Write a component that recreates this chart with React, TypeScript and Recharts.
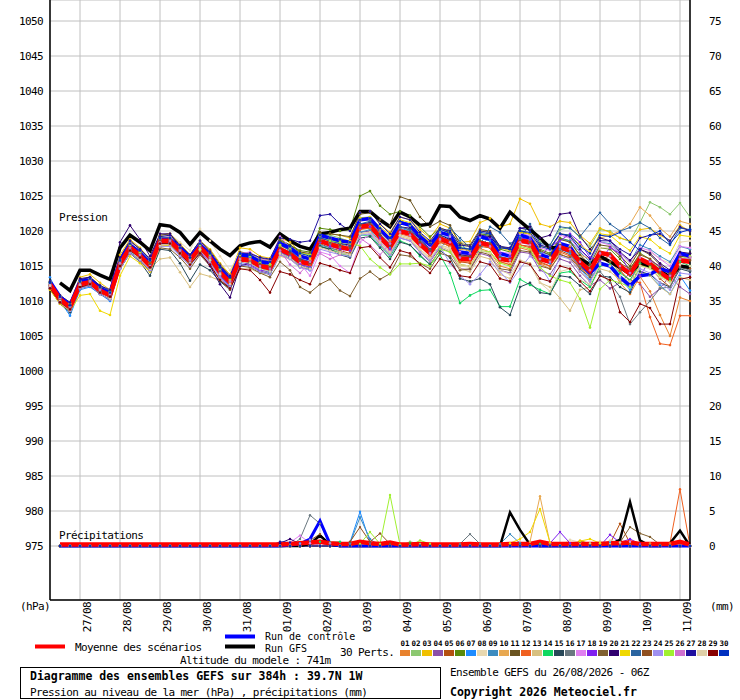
import { CartesianGrid, Line, LineChart, XAxis, YAxis } from 'recharts'

const FONT = '"DejaVu Sans Mono", monospace'

// steps are 6h apart, from 26/08 06Z (step 0) to +384h (step 64)
const DATE_TICKS = [3, 7, 11, 15, 19, 23, 27, 31, 35, 39, 43, 47, 51, 55, 59, 63]
const DATE_LABELS = [
  '27/08', '28/08', '29/08', '30/08', '31/08', '01/09', '02/09', '03/09',
  '04/09', '05/09', '06/09', '07/09', '08/09', '09/09', '10/09', '11/09',
]
const PRESSURE_TICKS = [
  975, 980, 985, 990, 995, 1000, 1005, 1010, 1015, 1020, 1025, 1030, 1035, 1040, 1045, 1050,
]
const RAIN_TICKS = [0, 5, 10, 15, 20, 25, 30, 35, 40, 45, 50, 55, 60, 65, 70, 75]

const PERT_LABELS = [
  '01', '02', '03', '04', '05', '06', '07', '08', '09', '10',
  '11', '12', '13', '14', '15', '16', '17', '18', '19', '20',
  '21', '22', '23', '24', '25', '26', '27', '28', '29', '30',
]
const PERT_COLORS = [
  '#e8822e', '#8cc870', '#f0c000', '#8c50a8', '#b45010', '#5a8a0a', '#1e8cff', '#e8d8b0', '#3c8cc0', '#e8a850',
  '#6a5420', '#f06020', '#d8c080', '#10d860', '#284858', '#6a7880', '#e080f0', '#8020f0', '#806030', '#300070',
  '#f0d800', '#2a64a0', '#905020', '#a090f0', '#a0f030', '#d070d0', '#2010a0', '#e0d0a8', '#880000', '#0030c0',
]

// sea level pressure (hPa), steps 0..64
const meanPressure = [
  1012.4, 1010.3, 1009.1, 1012.4, 1012.7, 1011.5, 1010.8, 1015.3, 1017.7, 1016.5,
  1015.0, 1018.6, 1018.6, 1017.2, 1015.8, 1017.7, 1016.2, 1014.1, 1012.7, 1016.0,
  1015.8, 1015.0, 1014.7, 1017.4, 1016.7, 1015.6, 1015.3, 1018.6, 1018.1, 1017.7,
  1017.4, 1020.6, 1020.8, 1019.1, 1017.7, 1020.0, 1019.6, 1018.1, 1016.9, 1018.9,
  1018.3, 1016.0, 1016.0, 1018.3, 1018.0, 1016.0, 1015.8, 1018.6, 1018.4, 1016.0,
  1015.6, 1017.7, 1017.2, 1015.6, 1014.3, 1016.9, 1016.6, 1015.0, 1013.9, 1016.0,
  1015.3, 1014.1, 1013.1, 1015.8, 1015.6,
]
const controlPressure = [
  1012.8, 1010.6, 1009.4, 1012.8, 1013.0, 1011.8, 1011.2, 1015.8, 1018.0, 1016.8,
  1015.4, 1018.8, 1018.8, 1017.6, 1016.2, 1018.0, 1016.6, 1014.6, 1013.0, 1016.6,
  1016.4, 1015.6, 1015.4, 1018.2, 1017.6, 1016.4, 1016.0, 1019.4, 1019.0, 1018.6,
  1018.4, 1021.6, 1021.8, 1020.2, 1018.8, 1021.2, 1020.8, 1019.2, 1018.0, 1019.8,
  1019.4, 1017.0, 1016.8, 1019.2, 1018.8, 1016.8, 1016.4, 1019.4, 1019.0, 1016.6,
  1016.2, 1018.2, 1017.8, 1015.4, 1014.0, 1015.4, 1015.0, 1013.4, 1012.2, 1013.6,
  1013.8, 1014.6, 1014.2, 1016.8, 1016.4,
]
const gfsPressure = [
  null, 1012.6, 1011.5, 1014.4, 1014.4, 1013.7, 1013.1, 1017.6, 1019.4, 1018.4,
  1017.2, 1020.9, 1020.7, 1019.8, 1018.1, 1019.8, 1018.6, 1017.4, 1016.5, 1017.9,
  1018.3, 1018.5, 1017.7, 1019.6, 1018.6, 1017.8, 1017.4, 1019.6, 1019.8, 1020.2,
  1020.4, 1022.8, 1022.8, 1021.6, 1020.6, 1022.7, 1022.0, 1020.8, 1021.0, 1023.6,
  1023.5, 1022.0, 1021.5, 1022.2, 1021.7, 1020.4, 1022.7, 1021.4, 1020.2, 1019.0,
  1017.6, 1017.6, 1017.2, 1016.0, 1015.2, 1016.4, 1015.6, 1014.8, 1013.9, 1015.5,
  1015.0, 1014.3, 1013.4, 1015.0, 1014.8,
]

const pert01 = [
  1012.0, 1010.0, 1008.8, 1012.8, 1013.0, 1011.8, 1011.0, 1015.8, 1018.2, 1017.0,
  1015.4, 1018.9, 1019.0, 1017.8, 1016.2, 1018.3, 1016.9, 1014.6, 1013.0, 1016.6,
  1016.2, 1015.5, 1015.0, 1018.0, 1017.6, 1016.3, 1015.9, 1019.4, 1019.0, 1018.2,
  1018.0, 1021.5, 1021.6, 1019.8, 1018.5, 1020.6, 1020.1, 1018.0, 1016.5, 1018.6,
  1017.8, 1015.2, 1015.0, 1017.5, 1017.0, 1015.0, 1014.6, 1017.6, 1017.2, 1015.3,
  1014.6, 1016.8, 1016.0, 1014.2, 1012.8, 1015.5, 1015.0, 1012.6, 1011.0, 1013.5,
  1011.4, 1008.0, 1005.0, 1010.5, 1010.0,
]
const pert02 = [
  1012.6, 1010.6, 1009.6, 1012.9, 1013.2, 1011.9, 1011.3, 1015.6, 1017.6, 1016.9,
  1015.8, 1019.0, 1019.2, 1017.9, 1016.6, 1018.4, 1016.8, 1014.9, 1013.3, 1016.8,
  1016.6, 1016.0, 1015.6, 1018.6, 1017.8, 1016.9, 1016.6, 1019.6, 1019.4, 1019.0,
  1018.5, 1021.9, 1022.0, 1020.4, 1019.0, 1021.1, 1020.8, 1019.6, 1018.2, 1019.8,
  1019.6, 1017.8, 1017.4, 1019.5, 1019.4, 1017.8, 1017.5, 1020.0, 1020.4, 1018.5,
  1018.0, 1020.2, 1020.5, 1019.0, 1017.8, 1020.2, 1020.0, 1019.0, 1018.5, 1021.2,
  1024.1, 1023.4, 1022.4, 1024.0, 1022.0,
]
const pert03 = [
  1012.8, 1010.8, 1009.8, 1013.4, 1013.8, 1012.6, 1011.6, 1016.6, 1018.8, 1017.6,
  1016.0, 1019.4, 1019.6, 1018.2, 1016.6, 1018.6, 1017.4, 1015.4, 1013.8, 1017.6,
  1017.4, 1016.4, 1016.1, 1019.0, 1018.4, 1017.0, 1016.6, 1019.8, 1019.6, 1019.4,
  1019.0, 1022.6, 1022.8, 1021.0, 1019.8, 1022.0, 1021.6, 1020.2, 1019.0, 1021.0,
  1020.4, 1018.4, 1018.5, 1021.2, 1021.8, 1020.6, 1021.0, 1024.6, 1023.9, 1021.0,
  1020.6, 1021.4, 1021.2, 1019.4, 1018.2, 1020.4, 1019.8, 1019.0, 1018.6, 1020.2,
  1020.4, 1019.4, 1018.6, 1020.8, 1020.0,
]
const pert04 = [
  1011.8, 1009.8, 1008.6, 1011.9, 1012.1, 1011.0, 1010.3, 1014.6, 1016.9, 1015.8,
  1014.4, 1018.0, 1018.0, 1016.6, 1015.0, 1017.0, 1015.5, 1013.4, 1011.8, 1015.3,
  1015.0, 1014.3, 1013.9, 1016.6, 1016.0, 1014.8, 1014.5, 1017.8, 1017.3, 1016.8,
  1016.5, 1019.8, 1020.0, 1018.1, 1016.6, 1019.0, 1018.6, 1017.0, 1015.6, 1017.6,
  1017.0, 1014.6, 1014.5, 1016.8, 1016.4, 1014.4, 1014.0, 1017.0, 1016.8, 1014.4,
  1013.8, 1016.0, 1015.5, 1013.6, 1012.2, 1013.0, 1011.8, 1012.6, 1014.0, 1012.4,
  1010.6, 1011.8, 1013.6, 1012.0, 1011.0,
]
const pert05 = [
  1012.2, 1010.1, 1009.0, 1012.6, 1012.8, 1011.4, 1010.6, 1015.4, 1017.9, 1016.6,
  1015.2, 1018.8, 1018.6, 1017.2, 1015.6, 1017.4, 1016.0, 1013.8, 1012.2, 1015.8,
  1015.6, 1014.8, 1014.4, 1017.2, 1016.4, 1015.2, 1014.8, 1018.2, 1017.6, 1017.2,
  1016.8, 1020.4, 1020.4, 1018.8, 1017.2, 1019.8, 1019.4, 1018.0, 1016.4, 1018.4,
  1017.8, 1015.6, 1015.4, 1017.8, 1017.6, 1015.6, 1015.2, 1018.0, 1017.8, 1015.6,
  1015.0, 1017.2, 1016.6, 1015.0, 1013.6, 1016.0, 1016.4, 1014.4, 1012.8, 1015.2,
  1014.8, 1013.2, 1012.0, 1015.0, 1014.6,
]
const pert06 = [
  1012.6, 1010.4, 1009.2, 1012.6, 1013.0, 1011.8, 1011.2, 1015.8, 1018.2, 1017.0,
  1015.6, 1019.2, 1019.0, 1017.6, 1016.2, 1018.2, 1016.8, 1014.8, 1013.2, 1016.6,
  1016.6, 1016.0, 1015.8, 1018.8, 1018.0, 1017.2, 1017.0, 1020.4, 1020.2, 1020.0,
  1020.2, 1025.0, 1025.7, 1023.6, 1022.4, 1022.8, 1022.2, 1020.6, 1019.2, 1020.4,
  1019.6, 1017.6, 1017.2, 1019.6, 1019.4, 1017.4, 1017.0, 1019.8, 1019.6, 1017.4,
  1016.8, 1019.0, 1018.6, 1016.4, 1014.6, 1017.6, 1017.4, 1016.0, 1014.6, 1016.8,
  1016.0, 1014.4, 1013.0, 1016.6, 1016.8,
]
const pert07 = [
  1013.4, 1010.0, 1007.9, 1011.6, 1012.0, 1011.0, 1010.0, 1014.6, 1017.0, 1016.0,
  1014.6, 1018.2, 1018.4, 1017.0, 1015.4, 1017.4, 1016.0, 1013.6, 1012.0, 1015.4,
  1015.6, 1014.6, 1014.2, 1017.0, 1016.2, 1015.0, 1014.6, 1018.6, 1018.2, 1017.6,
  1017.2, 1021.0, 1021.0, 1019.2, 1017.6, 1020.4, 1020.0, 1018.6, 1017.4, 1019.4,
  1019.0, 1016.6, 1016.6, 1019.0, 1018.6, 1016.4, 1016.0, 1018.8, 1018.4, 1016.0,
  1015.4, 1017.4, 1016.8, 1014.6, 1013.0, 1015.4, 1015.0, 1013.2, 1011.6, 1014.0,
  1013.6, 1012.2, 1011.0, 1013.6, 1011.5,
]
const pert08 = [
  1012.2, 1010.2, 1009.2, 1012.8, 1013.2, 1012.0, 1011.2, 1016.0, 1018.4, 1017.4,
  1016.2, 1019.4, 1019.6, 1018.4, 1017.2, 1020.3, 1018.6, 1016.4, 1014.4, 1017.0,
  1016.8, 1015.8, 1015.2, 1017.8, 1017.2, 1016.2, 1015.8, 1018.8, 1018.4, 1018.0,
  1017.6, 1020.6, 1020.6, 1018.6, 1017.0, 1019.4, 1019.0, 1017.4, 1016.0, 1018.0,
  1017.4, 1015.0, 1014.8, 1017.2, 1017.0, 1015.4, 1015.4, 1018.4, 1018.8, 1016.6,
  1016.2, 1018.2, 1017.8, 1016.4, 1015.2, 1017.6, 1017.6, 1016.4, 1015.4, 1017.2,
  1017.0, 1016.0, 1015.4, 1018.4, 1018.6,
]
const pert09 = [
  1012.0, 1009.8, 1008.4, 1012.0, 1012.4, 1011.2, 1010.4, 1015.0, 1017.4, 1016.2,
  1014.8, 1018.4, 1018.2, 1016.8, 1015.4, 1017.4, 1015.8, 1013.6, 1012.2, 1015.6,
  1015.4, 1014.6, 1014.0, 1016.8, 1016.2, 1015.0, 1014.4, 1018.0, 1017.6, 1017.0,
  1016.6, 1019.8, 1020.2, 1018.4, 1017.0, 1019.4, 1020.4, 1019.6, 1017.0, 1017.4,
  1019.4, 1018.6, 1016.4, 1017.2, 1019.6, 1016.8, 1016.6, 1019.2, 1019.2, 1017.0,
  1016.6, 1018.8, 1018.6, 1017.0, 1015.6, 1018.4, 1018.2, 1016.8, 1015.6, 1018.0,
  1017.4, 1016.4, 1015.6, 1017.8, 1017.4,
]
const pert10 = [
  1012.6, 1010.6, 1009.4, 1012.6, 1013.0, 1011.8, 1011.0, 1015.6, 1018.0, 1016.8,
  1015.4, 1018.8, 1018.8, 1017.4, 1016.0, 1017.8, 1016.4, 1014.4, 1013.0, 1016.2,
  1016.2, 1015.4, 1015.2, 1018.0, 1017.4, 1016.4, 1016.0, 1019.2, 1018.8, 1018.6,
  1018.4, 1021.6, 1021.8, 1020.2, 1018.8, 1021.2, 1021.0, 1019.6, 1018.4, 1020.4,
  1019.8, 1017.4, 1017.2, 1019.4, 1019.0, 1016.8, 1016.4, 1019.0, 1018.6, 1016.2,
  1015.8, 1018.0, 1017.8, 1016.6, 1016.0, 1019.0, 1019.4, 1020.0, 1021.0, 1023.4,
  1022.2, 1020.4, 1019.2, 1021.4, 1021.0,
]
const pert11 = [
  1012.4, 1010.4, 1009.4, 1013.0, 1013.4, 1012.2, 1011.4, 1016.2, 1018.6, 1017.4,
  1016.0, 1019.4, 1019.6, 1018.0, 1016.6, 1018.6, 1017.2, 1015.2, 1013.6, 1017.0,
  1016.8, 1016.2, 1015.8, 1018.6, 1018.0, 1017.0, 1016.8, 1019.8, 1019.6, 1019.4,
  1019.2, 1022.4, 1022.6, 1021.6, 1020.8, 1024.9, 1024.4, 1022.0, 1020.6, 1021.4,
  1020.8, 1018.2, 1018.0, 1020.2, 1020.0, 1017.8, 1017.4, 1020.0, 1019.6, 1017.2,
  1016.6, 1018.8, 1018.4, 1016.6, 1015.2, 1018.0, 1017.8, 1016.4, 1015.0, 1017.4,
  1016.6, 1015.2, 1014.0, 1016.4, 1016.2,
]
const pert12 = [
  1012.2, 1010.2, 1009.0, 1012.2, 1012.6, 1011.6, 1010.8, 1015.2, 1017.6, 1016.4,
  1015.0, 1018.4, 1018.4, 1017.0, 1015.6, 1017.6, 1016.2, 1014.0, 1012.6, 1016.0,
  1015.8, 1015.0, 1014.6, 1017.2, 1016.6, 1015.6, 1015.2, 1018.4, 1018.0, 1017.6,
  1017.2, 1020.2, 1020.4, 1018.8, 1017.4, 1019.6, 1019.2, 1017.8, 1016.4, 1018.4,
  1017.8, 1015.6, 1015.6, 1018.0, 1017.6, 1015.6, 1015.2, 1018.0, 1017.6, 1015.4,
  1015.0, 1017.0, 1016.4, 1014.8, 1013.6, 1016.0, 1015.6, 1014.2, 1013.0, 1012.6,
  1007.7, 1003.9, 1003.7, 1007.9, 1007.9,
]
const pert13 = [
  1012.0, 1010.0, 1008.8, 1011.8, 1012.2, 1011.2, 1010.4, 1014.8, 1016.8, 1016.0,
  1014.6, 1016.0, 1016.2, 1014.1, 1012.0, 1013.9, 1013.5, 1012.9, 1011.8, 1014.6,
  1014.6, 1014.0, 1013.8, 1016.4, 1016.0, 1015.0, 1014.6, 1017.8, 1017.4, 1017.0,
  1016.6, 1019.6, 1019.8, 1018.2, 1016.8, 1019.2, 1018.8, 1017.2, 1015.8, 1017.8,
  1017.2, 1014.6, 1014.2, 1016.4, 1016.0, 1013.8, 1013.2, 1015.8, 1015.4, 1012.6,
  1012.0, 1010.4, 1008.6, 1011.6, 1012.0, 1014.6, 1014.2, 1013.0, 1012.0, 1014.0,
  1013.6, 1012.0, 1011.0, 1013.4, 1013.0,
]
const pert14 = [
  1012.6, 1010.4, 1009.0, 1012.2, 1012.6, 1011.4, 1010.6, 1015.2, 1017.4, 1016.2,
  1014.8, 1018.4, 1018.2, 1016.8, 1015.4, 1017.4, 1015.8, 1013.8, 1012.2, 1015.6,
  1015.4, 1014.6, 1014.2, 1017.0, 1016.4, 1015.2, 1014.8, 1017.8, 1017.4, 1016.8,
  1016.4, 1019.4, 1019.4, 1017.8, 1016.4, 1018.6, 1018.0, 1016.4, 1015.2, 1016.6,
  1014.0, 1009.7, 1010.8, 1011.5, 1011.6, 1009.2, 1009.2, 1013.1, 1012.3, 1011.6,
  1011.0, 1014.0, 1014.2, 1013.0, 1012.0, 1015.0, 1015.2, 1014.0, 1013.0, 1015.4,
  1015.0, 1014.0, 1013.2, 1015.6, 1015.0,
]
const pert15 = [
  1011.8, 1009.6, 1008.4, 1011.8, 1012.2, 1011.0, 1010.2, 1014.6, 1016.8, 1015.6,
  1013.6, 1017.4, 1017.2, 1015.4, 1012.9, 1015.2, 1014.4, 1012.8, 1011.6, 1015.2,
  1015.0, 1014.2, 1013.8, 1016.8, 1016.2, 1015.0, 1014.6, 1017.8, 1017.4, 1016.6,
  1016.2, 1019.0, 1019.2, 1017.6, 1016.0, 1018.4, 1018.0, 1016.6, 1015.2, 1017.2,
  1016.2, 1013.2, 1012.8, 1013.2, 1012.4, 1009.1, 1008.0, 1012.0, 1012.6, 1011.2,
  1011.0, 1013.6, 1013.4, 1012.2, 1011.0, 1013.6, 1013.4, 1012.0, 1011.2, 1014.2,
  1013.8, 1012.6, 1012.0, 1014.6, 1014.2,
]
const pert16 = [
  1012.4, 1010.2, 1009.0, 1012.4, 1012.8, 1011.6, 1010.8, 1015.4, 1017.8, 1016.6,
  1015.2, 1018.6, 1018.6, 1017.2, 1015.8, 1017.8, 1016.2, 1014.2, 1012.8, 1016.2,
  1016.0, 1015.2, 1014.8, 1017.6, 1016.8, 1015.8, 1015.4, 1018.8, 1018.2, 1017.8,
  1017.6, 1020.8, 1021.0, 1019.4, 1018.0, 1020.2, 1019.8, 1018.4, 1017.2, 1019.2,
  1018.6, 1016.4, 1016.4, 1018.6, 1018.2, 1016.2, 1016.0, 1018.8, 1018.6, 1016.2,
  1015.6, 1017.6, 1017.0, 1015.0, 1013.6, 1014.2, 1012.6, 1010.6, 1006.7, 1008.4,
  1010.0, 1011.8, 1012.0, 1014.8, 1014.4,
]
const pert17 = [
  1012.8, 1010.6, 1009.6, 1012.8, 1013.2, 1012.0, 1011.2, 1015.8, 1018.2, 1017.2,
  1015.8, 1019.0, 1019.2, 1017.8, 1016.4, 1018.4, 1017.0, 1015.0, 1013.6, 1016.8,
  1017.0, 1016.0, 1015.8, 1019.2, 1017.6, 1015.4, 1013.6, 1017.0, 1016.6, 1015.0,
  1014.0, 1018.4, 1019.6, 1018.6, 1017.2, 1020.2, 1019.8, 1018.6, 1017.6, 1019.6,
  1019.2, 1017.0, 1016.8, 1019.2, 1019.0, 1017.0, 1016.8, 1019.6, 1019.4, 1017.6,
  1017.2, 1019.4, 1019.0, 1017.2, 1016.0, 1018.4, 1018.0, 1016.8, 1015.6, 1017.6,
  1017.2, 1016.0, 1015.0, 1017.8, 1017.6,
]
const pert18 = [
  1012.2, 1010.0, 1008.8, 1012.2, 1012.4, 1011.2, 1010.6, 1015.0, 1017.4, 1016.2,
  1014.8, 1018.2, 1018.4, 1017.0, 1015.4, 1017.2, 1015.8, 1013.6, 1012.2, 1015.6,
  1015.2, 1014.4, 1014.2, 1017.0, 1016.4, 1015.2, 1014.8, 1018.4, 1017.8, 1017.4,
  1017.2, 1020.4, 1020.6, 1019.0, 1017.4, 1020.0, 1019.8, 1018.2, 1017.0, 1019.0,
  1018.8, 1016.8, 1016.6, 1019.4, 1019.0, 1016.8, 1016.4, 1019.0, 1018.8, 1016.4,
  1017.8, 1018.6, 1019.6, 1018.4, 1016.2, 1015.8, 1017.6, 1016.8, 1014.0, 1013.6,
  1015.8, 1015.0, 1013.8, 1016.6, 1016.4,
]
const pert19 = [
  1011.6, 1009.6, 1008.6, 1012.0, 1012.2, 1011.0, 1010.2, 1014.6, 1016.8, 1015.8,
  1014.2, 1017.6, 1017.4, 1016.2, 1014.6, 1016.6, 1015.0, 1013.0, 1011.6, 1015.0,
  1014.8, 1014.0, 1013.4, 1015.6, 1014.4, 1012.0, 1011.2, 1012.4, 1013.1, 1011.5,
  1010.7, 1013.2, 1014.2, 1013.1, 1013.9, 1016.6, 1016.4, 1015.4, 1014.6, 1016.8,
  1016.4, 1014.4, 1014.6, 1017.0, 1016.6, 1014.6, 1014.4, 1017.2, 1017.0, 1015.0,
  1014.6, 1016.6, 1016.2, 1014.6, 1013.4, 1016.0, 1015.6, 1014.6, 1013.6, 1015.6,
  1015.0, 1014.0, 1013.4, 1016.0, 1016.0,
]
const pert20 = [
  1012.0, 1010.0, 1009.4, 1013.2, 1013.4, 1012.0, 1011.4, 1018.4, 1020.8, 1018.8,
  1016.4, 1019.6, 1019.6, 1017.6, 1015.4, 1017.0, 1015.0, 1012.4, 1010.5, 1015.0,
  1015.4, 1015.0, 1014.6, 1017.6, 1017.0, 1016.0, 1015.6, 1019.0, 1018.6, 1018.2,
  1018.0, 1021.0, 1021.2, 1019.4, 1018.0, 1020.6, 1020.4, 1018.8, 1017.4, 1019.4,
  1018.8, 1016.6, 1016.4, 1019.4, 1019.2, 1017.6, 1017.4, 1020.4, 1020.6, 1019.0,
  1019.4, 1022.4, 1022.6, 1019.3, 1017.4, 1019.0, 1018.6, 1017.0, 1015.8, 1017.4,
  1016.8, 1015.4, 1014.4, 1017.0, 1016.8,
]
const pert21 = [
  1011.6, 1009.6, 1008.6, 1010.8, 1011.0, 1008.6, 1008.0, 1013.6, 1016.4, 1015.4,
  1014.2, 1017.8, 1018.0, 1016.8, 1015.2, 1017.2, 1016.0, 1014.0, 1012.6, 1016.0,
  1016.0, 1015.4, 1015.0, 1017.8, 1017.4, 1016.6, 1016.2, 1019.4, 1019.0, 1018.8,
  1018.6, 1021.8, 1022.0, 1020.6, 1019.4, 1021.6, 1021.2, 1019.6, 1018.4, 1020.4,
  1020.0, 1018.0, 1017.8, 1020.0, 1019.8, 1017.6, 1017.2, 1019.8, 1019.6, 1017.8,
  1017.6, 1019.6, 1019.4, 1018.0, 1017.0, 1019.6, 1019.4, 1018.2, 1017.2, 1019.2,
  1018.8, 1017.6, 1016.8, 1019.4, 1019.2,
]
const pert22 = [
  1012.6, 1010.4, 1009.2, 1012.4, 1012.8, 1011.6, 1011.0, 1015.6, 1017.8, 1016.6,
  1015.2, 1018.8, 1018.6, 1017.2, 1015.8, 1017.8, 1016.2, 1014.2, 1012.8, 1016.4,
  1016.2, 1015.4, 1015.0, 1018.0, 1017.2, 1016.0, 1015.6, 1019.0, 1018.6, 1018.2,
  1017.8, 1021.0, 1021.4, 1019.6, 1018.2, 1020.6, 1020.2, 1018.6, 1017.4, 1019.4,
  1020.4, 1019.0, 1017.6, 1018.0, 1020.6, 1019.8, 1018.2, 1019.0, 1021.0, 1018.2,
  1018.0, 1020.6, 1020.4, 1019.2, 1021.0, 1022.6, 1021.0, 1020.0, 1020.5, 1021.2,
  1020.4, 1019.0, 1018.0, 1020.4, 1020.2,
]
const pert23 = [
  1012.2, 1010.2, 1009.2, 1012.6, 1013.0, 1011.8, 1011.0, 1015.6, 1017.8, 1016.8,
  1015.4, 1018.6, 1018.8, 1017.6, 1016.2, 1018.0, 1016.6, 1014.6, 1013.2, 1016.4,
  1016.0, 1015.2, 1015.0, 1017.6, 1016.8, 1015.8, 1015.4, 1018.6, 1018.4, 1018.0,
  1017.6, 1020.8, 1021.0, 1019.4, 1018.0, 1020.2, 1019.8, 1018.4, 1017.2, 1019.2,
  1018.6, 1016.4, 1016.4, 1018.6, 1018.2, 1016.2, 1016.0, 1018.6, 1018.4, 1016.2,
  1015.8, 1018.0, 1017.6, 1015.8, 1014.6, 1017.0, 1016.8, 1015.4, 1014.6, 1016.6,
  1016.0, 1014.8, 1013.8, 1016.2, 1015.8,
]
const pert24 = [
  1012.0, 1009.8, 1008.6, 1011.8, 1012.2, 1011.0, 1010.2, 1014.6, 1016.8, 1015.8,
  1014.4, 1017.8, 1017.8, 1016.4, 1015.0, 1016.8, 1015.4, 1013.4, 1012.0, 1015.2,
  1015.0, 1014.2, 1013.8, 1016.6, 1016.0, 1014.8, 1014.4, 1017.4, 1017.0, 1016.6,
  1016.4, 1019.4, 1019.6, 1018.0, 1016.6, 1019.0, 1018.6, 1017.0, 1015.8, 1017.8,
  1015.4, 1013.6, 1012.4, 1013.8, 1015.6, 1014.2, 1012.6, 1014.6, 1016.4, 1015.0,
  1012.8, 1016.4, 1016.0, 1014.2, 1012.8, 1015.4, 1015.0, 1013.4, 1012.2, 1014.6,
  1014.0, 1012.6, 1011.6, 1014.0, 1013.8,
]
const pert25 = [
  1012.8, 1010.6, 1009.6, 1012.8, 1013.0, 1012.0, 1011.4, 1015.8, 1018.0, 1017.0,
  1015.8, 1019.0, 1019.0, 1017.6, 1016.0, 1018.0, 1016.6, 1014.6, 1013.0, 1016.6,
  1016.4, 1015.6, 1015.2, 1018.0, 1017.6, 1016.8, 1016.6, 1019.4, 1018.6, 1018.4,
  1018.2, 1017.9, 1016.0, 1014.8, 1013.8, 1015.3, 1015.3, 1015.4, 1015.0, 1017.4,
  1017.0, 1015.2, 1015.0, 1017.2, 1017.0, 1015.4, 1015.0, 1017.8, 1017.4, 1014.8,
  1013.6, 1013.0, 1012.6, 1010.3, 1006.2, 1011.7, 1013.0, 1012.6, 1012.0, 1015.0,
  1014.8, 1013.6, 1012.8, 1016.0, 1016.4,
]
const pert26 = [
  1012.4, 1010.4, 1009.2, 1012.4, 1012.8, 1011.6, 1011.0, 1015.4, 1017.6, 1016.6,
  1015.0, 1018.4, 1018.6, 1017.2, 1015.8, 1017.6, 1016.2, 1014.0, 1012.8, 1016.0,
  1016.0, 1015.0, 1014.6, 1017.2, 1015.2, 1014.0, 1015.6, 1016.8, 1016.0, 1016.6,
  1018.4, 1019.0, 1018.0, 1016.6, 1018.2, 1019.8, 1019.4, 1018.0, 1016.8, 1018.8,
  1018.4, 1016.2, 1016.0, 1018.2, 1017.8, 1016.0, 1015.8, 1018.4, 1018.0, 1016.0,
  1015.6, 1017.8, 1017.4, 1015.6, 1014.4, 1016.8, 1016.4, 1015.0, 1014.0, 1016.2,
  1015.6, 1014.4, 1013.6, 1016.0, 1016.2,
]
const pert27 = [
  1012.8, 1010.8, 1009.8, 1013.0, 1013.4, 1012.2, 1011.6, 1016.2, 1018.6, 1017.4,
  1016.0, 1019.2, 1019.4, 1018.0, 1016.6, 1018.6, 1017.0, 1015.0, 1013.6, 1016.8,
  1016.8, 1016.2, 1016.0, 1019.0, 1018.8, 1018.4, 1018.6, 1022.2, 1022.4, 1021.0,
  1020.0, 1022.6, 1022.8, 1021.0, 1019.6, 1022.0, 1021.6, 1019.8, 1018.6, 1020.4,
  1020.0, 1018.0, 1017.8, 1020.0, 1019.8, 1017.8, 1017.6, 1020.4, 1020.2, 1018.0,
  1017.6, 1019.6, 1019.2, 1017.4, 1016.0, 1018.6, 1018.6, 1017.4, 1016.6, 1019.0,
  1019.4, 1019.6, 1018.6, 1020.6, 1020.0,
]
const pert28 = [
  1012.2, 1010.0, 1008.8, 1012.2, 1012.4, 1011.2, 1010.4, 1015.0, 1017.2, 1016.0,
  1014.6, 1018.0, 1018.2, 1016.8, 1015.4, 1017.4, 1015.8, 1013.8, 1012.4, 1015.6,
  1015.4, 1014.6, 1014.2, 1016.8, 1016.2, 1015.0, 1014.6, 1017.6, 1017.2, 1016.8,
  1016.6, 1019.6, 1019.8, 1018.4, 1017.0, 1019.4, 1019.0, 1017.4, 1016.2, 1018.0,
  1017.6, 1015.2, 1015.0, 1017.2, 1016.8, 1014.4, 1013.8, 1015.8, 1015.2, 1012.6,
  1011.4, 1014.2, 1014.6, 1013.0, 1012.4, 1015.2, 1015.0, 1013.6, 1012.8, 1015.0,
  1014.6, 1013.4, 1012.6, 1015.2, 1015.0,
]
const pert29 = [
  1011.8, 1009.8, 1008.8, 1012.0, 1012.4, 1011.2, 1010.6, 1015.0, 1017.2, 1016.2,
  1014.8, 1018.2, 1018.2, 1016.8, 1015.2, 1016.8, 1015.2, 1013.0, 1011.8, 1014.6,
  1014.4, 1013.0, 1011.2, 1014.2, 1013.8, 1013.0, 1012.4, 1015.4, 1015.0, 1014.4,
  1014.0, 1017.6, 1017.8, 1016.2, 1014.8, 1017.2, 1016.8, 1015.2, 1014.0, 1016.0,
  1015.6, 1013.6, 1013.4, 1015.6, 1015.2, 1013.2, 1012.8, 1015.6, 1015.2, 1013.2,
  1012.8, 1015.0, 1014.6, 1012.8, 1011.4, 1013.6, 1013.0, 1008.4, 1007.0, 1009.6,
  1009.0, 1006.7, 1006.7, 1013.1, 1013.4,
]
const pert30 = [
  1012.6, 1010.6, 1009.4, 1012.8, 1013.2, 1012.0, 1011.2, 1015.8, 1018.2, 1017.2,
  1015.8, 1019.0, 1019.0, 1017.6, 1016.2, 1018.2, 1016.8, 1014.8, 1013.4, 1016.8,
  1016.6, 1015.8, 1015.6, 1018.4, 1017.8, 1016.8, 1016.4, 1019.4, 1019.0, 1018.8,
  1018.4, 1021.6, 1021.8, 1020.4, 1019.0, 1021.4, 1021.0, 1019.4, 1018.2, 1020.2,
  1019.8, 1017.6, 1017.4, 1019.8, 1019.6, 1017.6, 1017.4, 1020.0, 1019.8, 1017.8,
  1017.4, 1019.6, 1019.4, 1017.8, 1016.8, 1019.4, 1019.2, 1019.8, 1018.4, 1017.2,
  1019.4, 1020.0, 1018.2, 1019.8, 1020.2,
]

// 6h precipitation (mm), steps 1..64
const meanRain = [
  0.2, 0.2, 0.2, 0.2, 0.2, 0.2, 0.2, 0.2, 0.2, 0.2, 0.2, 0.2, 0.2, 0.2, 0.2, 0.2,
  0.2, 0.2, 0.2, 0.2, 0.2, 0.2, 0.2, 0.3, 0.4, 0.5, 0.6, 0.4, 0.3, 0.3, 0.6, 0.4,
  0.3, 0.5, 0.2, 0.2, 0.3, 0.2, 0.2, 0.2, 0.2, 0.3, 0.2, 0.2, 0.2, 0.3, 0.3, 0.3,
  0.6, 0.3, 0.3, 0.3, 0.3, 0.3, 0.3, 0.4, 0.4, 0.5, 0.3, 0.3, 0.3, 0.3, 0.6, 0.2,
]
const controlRain = [
  0, 0, 0, 0, 0, 0, 0, 0, 0, 0, 0, 0, 0, 0, 0, 0,
  0, 0, 0, 0, 0, 0, 0, 0.1, 0.3, 1.0, 3.6, 0.3, 0, 0, 0, 0,
  0, 0, 0, 0, 0, 0, 0, 0, 0, 0, 0, 0, 0, 0, 0, 0,
  0, 0, 0, 0, 0, 0, 0, 0, 0, 0, 0, 0, 0, 0, 0, 0,
]
const gfsRain = [
  0, 0, 0, 0, 0, 0, 0, 0, 0, 0, 0, 0, 0, 0, 0, 0,
  0, 0, 0, 0, 0, 0, 0, 0, 0, 0.3, 1.5, 0.2, 0, 0, 0, 0,
  0, 0, 0, 0, 0, 0, 0, 0, 0, 0, 0, 0, 0, 4.8, 2.3, 0.2,
  0, 0, 0, 0, 0, 0, 0, 0.2, 0.9, 6.3, 0.8, 0, 0, 0.4, 2.2, 0,
]
const rain01 = [
  0, 0, 0, 0, 0, 0, 0, 0, 0, 0, 0, 0, 0, 0, 0, 0,
  0, 0, 0, 0, 0, 0, 0, 0, 0, 0, 0, 0, 0, 0, 0, 0,
  0, 0, 0, 0, 0, 0, 0, 0, 0, 0, 0, 0, 0.2, 0, 0, 0,
  0, 0, 0, 0, 0, 0, 0, 0, 0, 0, 0, 0.4, 0, 0, 0, 0,
]
const rain02 = [
  0, 0, 0, 0, 0, 0, 0, 0, 0, 0, 0, 0, 0, 0, 0, 0,
  0, 0, 0, 0, 0, 0, 0, 0, 0, 0, 0, 0, 0, 0, 0, 0,
  0, 0, 0, 0.6, 0.3, 0, 0, 0, 0, 0, 0, 0, 0, 0, 0, 0,
  0, 0, 0, 0, 0, 0, 0, 0, 0, 0, 0, 0, 0, 0, 0, 0,
]
const rain03 = [
  0, 0, 0, 0, 0, 0, 0, 0, 0, 0, 0, 0, 0, 0, 0, 0,
  0, 0, 0, 0, 0, 0, 0, 0, 0, 0, 0, 0, 0, 0, 0, 0,
  0, 0, 0, 0, 0, 0, 0, 0, 0, 0, 0, 0, 0, 0, 0, 0,
  0, 0, 0, 0, 0.8, 0.3, 0, 0, 0, 0, 0, 0, 0, 0, 0, 0,
]
const rain04 = [
  0, 0, 0, 0, 0, 0, 0, 0, 0, 0, 0, 0, 0, 0, 0, 0,
  0, 0, 0, 0, 0, 0, 0, 0, 0, 0, 0, 0.3, 0, 0, 0, 0,
  0, 0, 0, 0, 0, 0, 0, 0, 0, 0, 0, 0, 0, 0, 0, 0,
  0, 0, 0, 0, 0, 0, 0, 0, 0, 0, 0, 0, 0, 0, 0, 0,
]
const rain05 = [
  0, 0, 0, 0, 0, 0, 0, 0, 0, 0, 0, 0, 0, 0, 0, 0,
  0, 0, 0, 0, 0, 0, 0, 0, 0, 0, 0, 0, 0, 0, 0, 0,
  0, 0, 0, 0, 0, 0, 0, 0, 0, 0, 0, 0, 0, 0, 0, 0,
  0, 0, 0, 0, 0, 0, 0, 0.3, 3.2, 0.4, 0, 0, 0, 0, 0, 0,
]
const rain06 = [
  0, 0, 0, 0, 0, 0, 0, 0, 0, 0, 0, 0, 0, 0, 0, 0,
  0, 0, 0, 0, 0, 0, 0, 0, 0, 0, 0, 0, 0, 0, 0, 0,
  0, 0, 0, 0.4, 0, 0, 0, 0, 0, 0, 0, 0, 0, 0, 0, 0,
  0, 0, 0, 0, 0, 0, 0, 0, 0, 0, 0, 0, 0, 0, 0, 0,
]
const rain07 = [
  0, 0, 0, 0, 0, 0, 0, 0, 0, 0, 0, 0, 0, 0, 0, 0,
  0, 0, 0, 0, 0, 0, 0, 0, 0.4, 0.7, 0, 0, 0, 0.5, 4.9, 0.5,
  0, 0, 0, 0, 0, 0, 0, 0, 0, 0, 0, 0, 0, 0, 0, 0,
  0, 0, 0, 0, 0, 0, 0.4, 0.6, 0, 0, 0, 0, 0, 0, 0, 0,
]
const rain08 = [
  0, 0, 0, 0, 0, 0, 0, 0, 0, 0, 0, 0, 0, 0, 0, 0,
  0, 0, 0, 0, 0, 0, 0, 0, 0, 0, 0, 0, 0, 0, 0, 0,
  0, 0, 0, 0, 0, 0, 0, 0, 0, 0, 0, 0, 0, 0, 0, 0,
  0, 0, 0, 0.9, 0.5, 0, 0.6, 0, 0, 0, 0, 0, 0, 0, 0, 0,
]
const rain09 = [
  0, 0, 0, 0, 0, 0, 0, 0, 0, 0, 0, 0, 0, 0, 0, 0,
  0, 0, 0, 0, 0, 0, 0, 0, 0, 0, 0, 0, 0, 0.4, 4.1, 1.0,
  0, 0, 0, 0, 0, 0, 0, 0, 0, 0, 0, 0, 0.3, 1.7, 0.4, 0,
  0, 0, 0, 0, 0, 0, 0, 0, 0, 0, 0, 0, 0, 0, 0, 0,
]
const rain10 = [
  0, 0, 0, 0, 0, 0, 0, 0, 0, 0, 0, 0, 0, 0, 0, 0,
  0, 0, 0, 0, 0, 0, 0, 0, 0, 0, 0, 0, 0, 0, 0, 0,
  0, 0, 0, 0, 0, 0, 0, 0, 0, 0, 0, 0, 0, 0, 0, 0.6,
  7.1, 0.4, 0, 0, 0, 0, 0, 0, 0, 0, 0, 0, 0, 0, 0, 0,
]
const rain11 = [
  0, 0, 0, 0, 0, 0, 0, 0, 0, 0, 0, 0, 0, 0, 0, 0,
  0, 0, 0, 0, 0, 0, 0, 0, 0, 0, 0, 0, 0, 0, 0, 0,
  0, 0, 0, 0, 0, 0, 0, 0, 0, 0, 0, 0, 0, 0, 0, 0,
  0, 0, 0, 0, 0.6, 0.4, 0, 0, 0, 0, 0.3, 0, 0, 0, 0, 0,
]
const rain12 = [
  0, 0, 0, 0, 0, 0, 0, 0, 0, 0, 0, 0, 0, 0, 0, 0,
  0, 0, 0, 0, 0, 0, 0, 0, 0, 0, 0, 0, 0, 0, 0, 0,
  0, 0, 0, 0, 0, 0, 0, 0, 0.2, 0, 0, 0, 0, 0, 0, 0,
  0, 0, 0, 0, 0, 0, 0, 0, 0, 0, 0, 0, 0, 0.4, 8.1, 0,
]
const rain13 = [
  0, 0, 0, 0, 0, 0, 0, 0, 0, 0, 0, 0, 0, 0, 0, 0,
  0, 0, 0, 0, 0, 0, 0, 0, 0, 0, 0, 0, 0, 0, 0, 0,
  0, 0, 0, 0, 0, 0, 0, 0, 0, 0, 0, 0, 0, 0, 0, 0,
  0, 0, 0, 0, 0, 0.4, 0.6, 0.3, 0, 0, 0, 0, 0, 0, 0, 0,
]
const rain14 = [
  0, 0, 0, 0, 0, 0, 0, 0, 0, 0, 0, 0, 0, 0, 0, 0,
  0, 0, 0, 0, 0, 0, 0, 0, 0, 0, 0.6, 0.5, 0.6, 0, 0, 0,
  0, 0, 0, 0, 0, 0, 0, 0, 0, 0, 0, 0, 0, 0, 0, 0,
  0.3, 0, 0, 0, 0, 0, 0, 0, 0, 0, 0, 0, 0, 0, 0, 0,
]
const rain15 = [
  0, 0, 0, 0, 0, 0, 0, 0, 0, 0, 0, 0, 0, 0, 0, 0,
  0, 0, 0, 0, 0, 0, 0, 0, 0, 0.2, 0, 0, 0, 0, 0, 0,
  0, 0, 0, 0, 0, 0, 0, 0, 0, 0, 0, 0, 0, 0, 0, 0,
  0, 0, 0, 0, 0, 0, 0, 0, 0, 0, 0, 0, 0, 0, 0, 0,
]
const rain16 = [
  0, 0, 0, 0, 0, 0, 0, 0, 0, 0, 0, 0, 0, 0, 0, 0,
  0, 0, 0, 0, 0, 0, 0, 0, 1.0, 4.4, 3.2, 0.3, 0, 0, 0, 0,
  0, 0, 0, 0, 0, 0, 0, 0, 0.3, 1.7, 0.3, 0, 0, 0, 0, 0,
  0, 0, 0, 0, 0, 0, 0, 0, 0, 0, 0, 0, 0, 0, 0, 0,
]
const rain17 = [
  0, 0, 0, 0, 0, 0, 0, 0, 0, 0, 0, 0, 0, 0, 0, 0,
  0, 0, 0, 0, 0, 0, 0, 0.5, 1.5, 0.4, 0, 0, 0, 0, 0, 0,
  0, 0, 0, 0, 0, 0, 0, 0, 0, 0, 0, 0, 0, 0, 0, 0,
  0, 0, 0, 0, 0, 0, 0, 0, 0, 0.6, 0, 0, 0, 0, 0, 0,
]
const rain18 = [
  0, 0, 0, 0, 0, 0, 0, 0, 0, 0, 0, 0, 0, 0, 0, 0,
  0, 0, 0, 0, 0, 0, 0, 0, 0, 0, 0, 0, 0, 0, 0, 0,
  0, 0, 0, 0, 0, 0, 0, 0, 0, 0, 0, 0, 0, 0, 0, 0,
  0, 0.4, 2.0, 0.4, 0, 0, 0, 1.6, 0.5, 1.0, 0.3, 0, 0, 0, 0, 0,
]
const rain19 = [
  0, 0, 0, 0, 0, 0, 0, 0, 0, 0, 0, 0, 0, 0, 0, 0,
  0, 0, 0, 0, 0, 0, 0, 0, 0, 0, 0, 0, 0, 0, 0, 0,
  0, 0, 0, 0, 0, 0, 0, 0, 0, 0, 0, 0, 0, 0, 0, 0,
  0, 0, 0, 0, 0, 0, 0, 0, 0.5, 2.7, 1.8, 1.3, 0.2, 0, 0, 0,
]
const rain20 = [
  0, 0, 0, 0, 0, 0, 0, 0, 0, 0, 0, 0, 0, 0, 0, 0,
  0, 0, 0, 0, 0, 0, 0.4, 1.0, 0.3, 0, 0, 0, 0, 0, 0, 0,
  0, 0, 0, 0, 0, 0, 0, 0, 0, 0, 0, 0, 0, 0, 0, 0,
  0, 0, 0, 0, 0, 0, 0, 0, 0, 0, 0, 0, 0, 0, 0, 0,
]
const rain21 = [
  0, 0, 0, 0, 0, 0, 0, 0, 0, 0, 0, 0, 0, 0, 0, 0,
  0, 0, 0, 0, 0, 0, 0, 0, 0, 0, 0, 0, 0, 0, 0, 0,
  0, 0, 0, 0, 0, 0, 0, 0, 0, 0, 0, 0, 0, 0.4, 1.0, 2.0,
  5.3, 0.5, 0, 0, 0.7, 1.0, 0.4, 0, 0, 0, 0, 0, 0, 0, 0, 0,
]
const rain22 = [
  0, 0, 0, 0, 0, 0, 0, 0, 0, 0, 0, 0, 0, 0, 0, 0,
  0, 0, 0, 0, 0, 0, 0, 0, 0, 0, 0, 0, 0, 0, 0, 0,
  0, 0, 0, 0, 0, 0, 0, 0, 0, 0, 0, 0, 0, 0, 0.3, 0,
  0, 0, 0, 0, 0, 0, 0, 0, 0, 0, 0, 0, 0, 0, 0, 0,
]
const rain23 = [
  0, 0, 0, 0, 0, 0, 0, 0, 0, 0, 0, 0, 0, 0, 0, 0,
  0, 0, 0, 0, 0, 0, 0, 0, 0, 0.8, 1.7, 0.3, 0, 0.6, 2.7, 0.6,
  1.8, 0.3, 0, 0, 0, 0, 0, 0, 0, 0, 0, 0, 0, 0, 0, 0,
  0, 0, 0, 0, 0, 0, 0, 0, 0, 0, 0, 0, 0, 0, 0, 0,
]
const rain24 = [
  0, 0, 0, 0, 0, 0, 0, 0, 0, 0, 0, 0, 0, 0, 0, 0,
  0, 0, 0, 0, 0, 0, 0, 0, 0.3, 0.9, 0, 0, 0, 0, 0, 0,
  0, 0, 0, 0, 0, 0, 0, 0, 0, 0, 0, 0, 0, 0, 0, 0,
  0, 0, 0, 0, 0, 0, 0, 0, 0, 0, 0, 0, 0, 0, 0, 0,
]
const rain25 = [
  0, 0, 0, 0, 0, 0, 0, 0, 0, 0, 0, 0, 0, 0, 0, 0,
  0, 0, 0, 0, 0, 0, 0, 0, 0, 0, 0, 0, 0, 0, 0.3, 2.0,
  0.3, 7.3, 0.2, 0, 0.8, 0.3, 0, 0, 0, 0, 0, 0, 0, 0, 0, 0,
  0, 0, 0, 0, 0, 0, 0, 0, 0, 0, 0, 0, 0, 0, 0, 0,
]
const rain26 = [
  0, 0, 0, 0, 0, 0, 0, 0, 0, 0, 0, 0, 0, 0, 0, 0,
  0, 0, 0, 0, 0, 0, 0, 0, 0, 0, 0, 0.4, 0, 0, 0, 0,
  0, 0, 0, 0, 0, 0, 0, 0, 0, 0, 0, 0, 0, 0, 0, 0,
  0, 0, 0, 0, 0, 0, 0, 0, 0, 0, 0, 0, 0, 0, 0, 0,
]
const rain27 = [
  0, 0, 0, 0, 0, 0, 0, 0, 0, 0, 0, 0, 0, 0, 0, 0,
  0, 0, 0, 0, 0, 0, 0.6, 0.5, 0, 0, 0, 0, 0, 0, 0, 0,
  0, 0, 0, 0, 0, 0, 0, 0, 0, 0, 0, 0, 0, 0, 0, 0,
  0, 0, 0, 0, 0, 0, 0, 0, 0, 0, 0, 0, 0, 0, 0, 0,
]
const rain28 = [
  0, 0, 0, 0, 0, 0, 0, 0, 0, 0, 0, 0, 0, 0, 0, 0,
  0, 0, 0, 0, 0, 0, 0, 0, 0, 0, 0, 0, 0, 0, 0, 0,
  0, 0, 0, 0, 0, 0, 0, 0, 0, 0, 0, 0, 0, 0, 0, 0,
  0, 0, 0, 0, 0, 0, 0, 0.8, 0.5, 0, 0, 0, 0, 0, 0, 0,
]
const rain29 = [
  0, 0, 0, 0, 0, 0, 0, 0, 0, 0, 0, 0, 0, 0, 0, 0,
  0, 0, 0, 0, 0, 0, 0, 0, 0, 0, 0, 0, 0, 0, 0, 0,
  0, 0, 0, 0, 0, 0, 0, 0, 0, 0, 0, 0, 0, 0, 0, 0,
  0, 0, 0, 0, 0, 0, 0, 0, 0, 0, 0, 0, 0, 0, 0, 0,
]
const rain30 = [
  0, 0, 0, 0, 0, 0, 0, 0, 0, 0, 0, 0, 0, 0, 0, 0,
  0, 0, 0, 0, 0, 0, 0, 0, 0, 0, 0, 0, 0, 0, 0, 0,
  0, 0, 0, 0, 0, 0, 0, 0, 0, 0, 0, 0, 0, 0, 0, 0,
  0, 0, 0, 0, 0, 0, 0, 0, 0, 0, 0, 0, 0, 0, 0, 0,
]

const PERT_PRESSURE = [
  pert01, pert02, pert03, pert04, pert05, pert06, pert07, pert08, pert09, pert10,
  pert11, pert12, pert13, pert14, pert15, pert16, pert17, pert18, pert19, pert20,
  pert21, pert22, pert23, pert24, pert25, pert26, pert27, pert28, pert29, pert30,
]
const PERT_RAIN = [
  rain01, rain02, rain03, rain04, rain05, rain06, rain07, rain08, rain09, rain10,
  rain11, rain12, rain13, rain14, rain15, rain16, rain17, rain18, rain19, rain20,
  rain21, rain22, rain23, rain24, rain25, rain26, rain27, rain28, rain29, rain30,
]

const rows = meanPressure.map((mean, step) => {
  const row: Record<string, number | null> = {
    step,
    mean,
    control: controlPressure[step],
    gfs: gfsPressure[step],
    meanRain: step === 0 ? null : meanRain[step - 1],
    controlRain: step === 0 ? null : controlRain[step - 1],
    gfsRain: step === 0 ? null : gfsRain[step - 1],
  }
  PERT_PRESSURE.forEach((values, k) => {
    row[`p${k}`] = values[step]
    row[`r${k}`] = step === 0 ? null : PERT_RAIN[k][step - 1]
  })
  return row
})

const textStyle = {
  fontFamily: FONT,
  fontSize: 11,
  letterSpacing: -0.6,
  fill: '#000',
}
const smallStyle = {
  fontFamily: FONT,
  fontSize: 10,
  fill: '#000',
}
const boldStyle = {
  fontFamily: FONT,
  fontSize: 11.5,
  fontWeight: 700,
  fill: '#000',
}

function DateTick({ x, payload }: any) {
  const label = DATE_LABELS[DATE_TICKS.indexOf(payload.value)]
  const ax = x + 11
  return (
    <text x={ax} y={602} transform={`rotate(-90 ${ax} 602)`} textAnchor='end' style={textStyle}>
      {label}
    </text>
  )
}

function PressureTick({ y, payload }: any) {
  return (
    <text x={43} y={y} dy='0.35em' textAnchor='end' style={textStyle}>
      {payload.value}
    </text>
  )
}

function RainTick({ y, payload }: any) {
  return (
    <text x={709} y={y} dy='0.35em' textAnchor='start' style={textStyle}>
      {payload.value}
    </text>
  )
}

function Overlay() {
  return (
    <svg
      width={740}
      height={700}
      style={{ position: 'absolute', left: 0, top: 0, pointerEvents: 'none' }}
    >
      <text x={59} y={217} dy='0.35em' style={textStyle}>Pression</text>
      <text x={59} y={535} dy='0.35em' style={textStyle}>Précipitations</text>
      <text x={20} y={606} dy='0.35em' style={textStyle}>(hPa)</text>
      <text x={710} y={606} dy='0.35em' style={textStyle}>(mm)</text>

      <line x1={35} x2={65} y1={646.5} y2={646.5} stroke='#ff0000' strokeWidth={4} />
      <text x={75} y={647} dy='0.35em' style={textStyle}>Moyenne des scénarios</text>
      <line x1={225} x2={255} y1={636.5} y2={636.5} stroke='#0000ff' strokeWidth={4} />
      <text x={265} y={636} dy='0.35em' style={smallStyle}>Run de contrôle</text>
      <line x1={225} x2={255} y1={646.5} y2={646.5} stroke='#000' strokeWidth={4} />
      <text x={265} y={648} dy='0.35em' style={smallStyle}>Run GFS</text>
      <text x={340} y={652} dy='0.35em' style={textStyle}>30 Perts.</text>
      {PERT_LABELS.map((label, k) => (
        <g key={label}>
          <text
            x={405 + k * 11}
            y={643.5}
            dy='0.35em'
            textAnchor='middle'
            style={{ fontFamily: FONT, fontSize: 7.5, fontWeight: 700, fill: '#000' }}
          >
            {label}
          </text>
          <rect x={400 + k * 11} y={650} width={10} height={6} fill={PERT_COLORS[k]} />
        </g>
      ))}
      <text x={180} y={660} dy='0.35em' style={textStyle}>Altitude du modele : 741m</text>

      <rect x={20.5} y={667.5} width={420} height={31} fill='none' stroke='#000' strokeWidth={1} />
      <text x={30} y={676} dy='0.35em' style={boldStyle}>
        Diagramme des ensembles GEFS sur 384h : 39.7N 1W
      </text>
      <text x={30} y={692} dy='0.35em' style={textStyle}>
        Pression au niveau de la mer (hPa) , précipitations (mm)
      </text>
      <text x={450} y={672.5} dy='0.35em' style={textStyle}>
        Ensemble GEFS du 26/08/2026 - 06Z
      </text>
      <text x={450} y={692} dy='0.35em' style={boldStyle}>
        Copyright 2026 Meteociel.fr
      </text>
    </svg>
  )
}

export default function App() {
  return (
    <div
      style={{
        position: 'absolute',
        left: 0,
        top: 0,
        width: 740,
        height: 700,
        background: '#fff',
      }}
    >
      <LineChart
        width={740}
        height={700}
        data={rows}
        margin={{ top: 0, right: 0, bottom: 0, left: 0 }}
      >
        <CartesianGrid yAxisId='left' stroke='#c0c0c0' strokeWidth={1} />
        <XAxis
          dataKey='step'
          type='number'
          domain={[0, 64]}
          ticks={DATE_TICKS}
          interval={0}
          height={100}
          tickLine={false}
          axisLine={{ stroke: '#000', strokeWidth: 1.5 }}
          tick={<DateTick />}
        />
        <YAxis
          yAxisId='left'
          type='number'
          domain={[967.286, 1053]}
          allowDataOverflow
          ticks={PRESSURE_TICKS}
          interval={0}
          width={50}
          tickLine={false}
          axisLine={{ stroke: '#000', strokeWidth: 1.5 }}
          tick={<PressureTick />}
        />
        <YAxis
          yAxisId='right'
          orientation='right'
          type='number'
          domain={[-7.714, 78]}
          allowDataOverflow
          ticks={RAIN_TICKS}
          interval={0}
          width={50}
          tickLine={false}
          axisLine={{ stroke: '#000', strokeWidth: 1.5 }}
          tick={<RainTick />}
        />

        {PERT_COLORS.map((color, k) => (
          <Line
            key={`p${k}`}
            yAxisId='left'
            type='linear'
            dataKey={`p${k}`}
            stroke={color}
            strokeWidth={1}
            dot={{ r: 1.3, fill: color, stroke: 'none' }}
            activeDot={false}
            isAnimationActive={false}
          />
        ))}
        {PERT_COLORS.map((color, k) => (
          <Line
            key={`r${k}`}
            yAxisId='right'
            type='linear'
            dataKey={`r${k}`}
            stroke={color}
            strokeWidth={1}
            dot={{ r: 1.2, fill: color, stroke: 'none' }}
            activeDot={false}
            isAnimationActive={false}
          />
        ))}

        <Line yAxisId='left' type='linear' dataKey='gfs' stroke='#000' strokeWidth={3.5}
          dot={false} activeDot={false} isAnimationActive={false} />
        <Line yAxisId='right' type='linear' dataKey='gfsRain' stroke='#000' strokeWidth={2.5}
          dot={false} activeDot={false} isAnimationActive={false} />
        <Line yAxisId='left' type='linear' dataKey='control' stroke='#0000ff' strokeWidth={3.5}
          dot={false} activeDot={false} isAnimationActive={false} />
        <Line yAxisId='right' type='linear' dataKey='controlRain' stroke='#0000ff' strokeWidth={3}
          dot={false} activeDot={false} isAnimationActive={false} />
        <Line yAxisId='left' type='linear' dataKey='mean' stroke='#ff0000' strokeWidth={4.5}
          dot={false} activeDot={false} isAnimationActive={false} />
        <Line yAxisId='right' type='linear' dataKey='meanRain' stroke='#ff0000' strokeWidth={4.5}
          dot={false} activeDot={false} isAnimationActive={false} />
      </LineChart>
      <Overlay />
    </div>
  )
}
